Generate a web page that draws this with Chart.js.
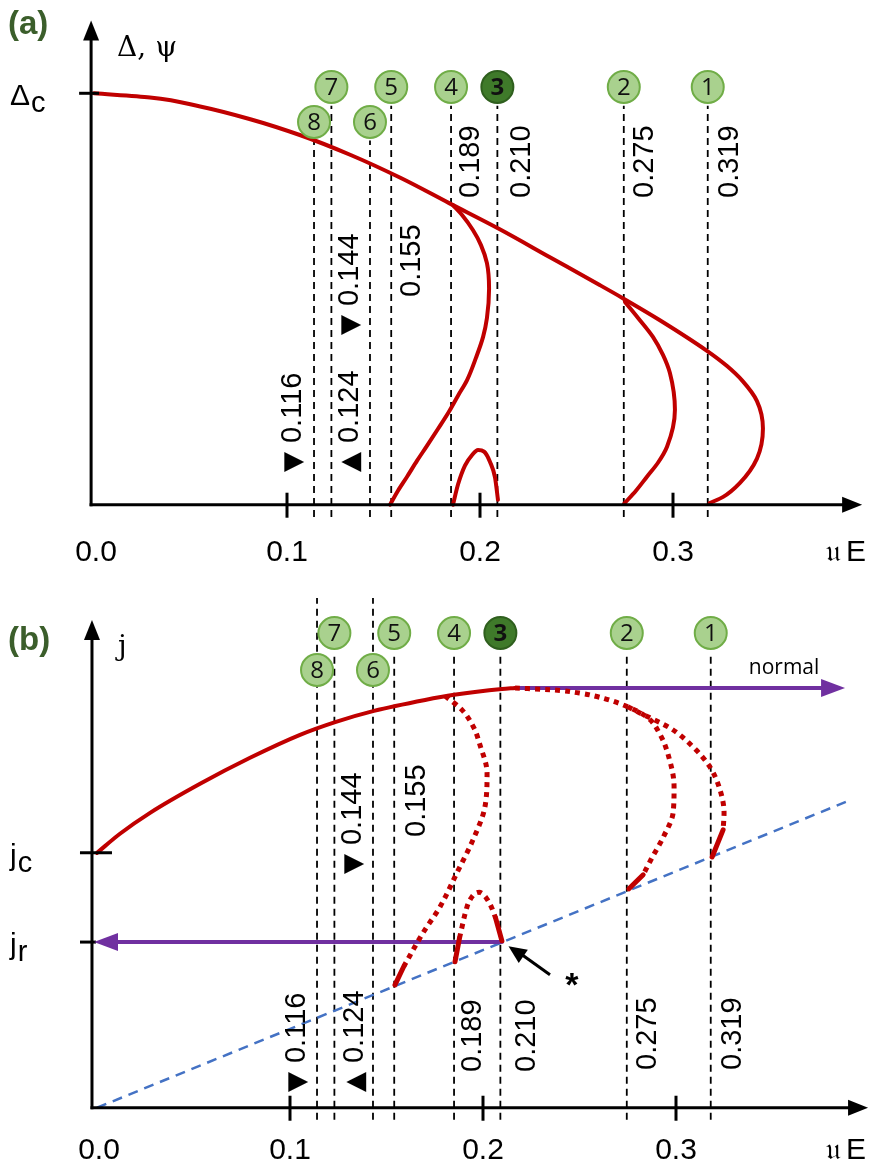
<!DOCTYPE html>
<html>
<head>
<meta charset="utf-8">
<script src="https://cdn.jsdelivr.net/npm/chart.js@4.4.0/dist/chart.umd.min.js"></script>
<style>
body { margin: 0; background: #fff; }
canvas { display: block; }
</style>
</head>
<body>
<canvas id="chartA" width="890" height="587"></canvas>
<canvas id="chartB" width="890" height="587"></canvas>
<script>
// critical uE values: where the dashed lines sit, their printed values, circle numbers
const critX = [0.318, 0.2745, 0.209, 0.185, 0.154, 0.143, 0.123, 0.114];
const critNums = ['1', '2', '3', '4', '5', '6', '7', '8'];
const critText = ['0.319', '0.275', '0.210', '0.189', '0.155', '0.144', '0.124', '0.116'];
const critMark = ['', '', '', '', '', '\u25BC', '\u25B2', '\u25BC'];
const xTicks = [0.1, 0.2, 0.3];
const xTickLabels = ['0.1', '0.2', '0.3'];

// panel (a): gap Delta vs uE
const gapMainX = [0, 0.029, 0.055, 0.081, 0.107, 0.133, 0.159, 0.184, 0.210, 0.236, 0.262, 0.274, 0.293, 0.3176, 0.328, 0.336, 0.3435, 0.3466, 0.3435, 0.3347, 0.326, 0.319];
const gapMainY = [1.0, 0.990, 0.968, 0.937, 0.898, 0.850, 0.794, 0.733, 0.670, 0.602, 0.534, 0.502, 0.449, 0.374, 0.337, 0.301, 0.252, 0.185, 0.112, 0.053, 0.019, 0.004];
const gap2X = [0.2751, 0.2819, 0.2896, 0.2948, 0.2984, 0.301, 0.2969, 0.2922, 0.2865, 0.2808, 0.2746];
const gap2Y = [0.493, 0.454, 0.408, 0.364, 0.320, 0.231, 0.141, 0.102, 0.068, 0.034, 0.002];
const gap4X = [0.186, 0.1907, 0.1964, 0.2005, 0.2036, 0.2047, 0.2036, 0.2016, 0.1979, 0.1933, 0.1886, 0.1839, 0.1782, 0.1725, 0.1674, 0.1622, 0.1575, 0.1534];
const gap4Y = [0.728, 0.704, 0.667, 0.631, 0.587, 0.525, 0.454, 0.408, 0.357, 0.303, 0.265, 0.226, 0.184, 0.143, 0.107, 0.068, 0.034, 0.0];
const gapArcX = [0.186, 0.1886, 0.1922, 0.1959, 0.199, 0.2021, 0.2052, 0.2078, 0.2093];
const gapArcY = [0.0, 0.049, 0.095, 0.121, 0.133, 0.129, 0.104, 0.066, 0.012];

// panel (b): current j vs uE
const jMainX = [0, 0.0119, 0.0275, 0.0534, 0.0793, 0.1052, 0.1238, 0.1435, 0.170, 0.185, 0.2098, 0.2166];
const jMainY = [1.0, 1.075, 1.157, 1.271, 1.373, 1.463, 1.514, 1.557, 1.600, 1.620, 1.643, 1.647];
const j4DotX = [0.1803, 0.1891, 0.1953, 0.1984, 0.2021, 0.2010, 0.1948, 0.1865, 0.1777, 0.1689, 0.159];
const j4DotY = [1.616, 1.561, 1.490, 1.424, 1.314, 1.180, 1.051, 0.922, 0.788, 0.686, 0.555];
const j4SolX = [0.159, 0.1544];
const j4SolY = [0.555, 0.482];
const jArcSolLX = [0.1855, 0.1878];
const jArcSolLY = [0.573, 0.665];
const jArcDotX = [0.1878, 0.1917, 0.1945, 0.198, 0.2015, 0.2045, 0.2065];
const jArcDotY = [0.665, 0.788, 0.83, 0.845, 0.825, 0.785, 0.745];
const jArcSolRX = [0.2065, 0.2098];
const jArcSolRY = [0.745, 0.655];
const j2DotX = [0.2166, 0.235, 0.25, 0.263, 0.275, 0.2849, 0.2917, 0.2965, 0.299, 0.2985, 0.2935, 0.287, 0.283];
const j2DotY = [1.647, 1.640, 1.627, 1.605, 1.573, 1.533, 1.465, 1.37, 1.26, 1.157, 1.063, 0.973, 0.914];
const j2SolX = [0.283, 0.2756];
const j2SolY = [0.914, 0.859];
const j1DotX = [0.275, 0.2813, 0.2969, 0.3088, 0.3176, 0.3228, 0.3249, 0.3244];
const j1DotY = [1.573, 1.549, 1.49, 1.416, 1.337, 1.247, 1.157, 1.09];
const j1SolX = [0.3244, 0.3187];
const j1SolY = [1.09, 0.984];
const resistX = [0, 0.388];
const resistY = [0, 1.2];
const jNormal = 1.647;
const jC = 1.0;
const jR = 0.65;

const RED = '#c00000', PURPLE = '#7030a0', BLUE = '#4472c4';
const FONT = '"Liberation Sans", Arial, sans-serif';

function pts(xs, ys) { return xs.map((x, i) => ({ x: x, y: ys[i] })); }

// axis: which axis the curve is monotone along ('x' or 'y')
function curve(xs, ys, color, width, dash, axis, order) {
  let d = {
    data: pts(xs, ys), borderColor: color, borderWidth: width,
    borderDash: dash || [], borderCapStyle: dash ? 'butt' : 'round',
    borderJoinStyle: 'round',
    pointRadius: 0, fill: false, clip: false,
    order: order || 1
  };
  if (axis) {
    d.indexAxis = axis;
    d.cubicInterpolationMode = 'monotone';
  } else {
    d.tension = 0;
  }
  return d;
}

function critLines(bottom, topRow0, topRow1) {
  return critX.map((x, i) => {
    let top = (i === 5 || i === 7) ? topRow1 : topRow0;
    return curve([x, x], [bottom, top], '#000', 1.8, [7, 5], null, 10);
  });
}

function head(ctx, x, y, dir, len, half, color) {
  ctx.save();
  ctx.fillStyle = color;
  ctx.beginPath();
  if (dir === 'right') { ctx.moveTo(x, y); ctx.lineTo(x - len, y - half); ctx.lineTo(x - len, y + half); }
  if (dir === 'left') { ctx.moveTo(x, y); ctx.lineTo(x + len, y - half); ctx.lineTo(x + len, y + half); }
  if (dir === 'up') { ctx.moveTo(x, y); ctx.lineTo(x - half, y + len); ctx.lineTo(x + half, y + len); }
  ctx.closePath();
  ctx.fill();
  ctx.restore();
}

function line(ctx, x1, y1, x2, y2, w, color) {
  ctx.save();
  ctx.strokeStyle = color; ctx.lineWidth = w;
  ctx.beginPath(); ctx.moveTo(x1, y1); ctx.lineTo(x2, y2); ctx.stroke();
  ctx.restore();
}

function text(ctx, s, x, y, font, color, align) {
  ctx.save();
  ctx.font = font; ctx.fillStyle = color || '#000';
  ctx.textAlign = align || 'left'; ctx.textBaseline = 'alphabetic';
  ctx.fillText(s, x, y);
  ctx.restore();
}

function sub(ctx, main, s, x, y) {
  ctx.save();
  ctx.font = '30px ' + FONT; ctx.fillStyle = '#000';
  ctx.fillText(main, x, y);
  let w = ctx.measureText(main).width;
  ctx.font = '29px ' + FONT;
  ctx.fillText(s, x + w + 1, y + 7);
  ctx.restore();
}

// common decoration for both panels
function decor(cfg) {
  return {
    id: 'decor' + cfg.name,
    afterDatasetsDraw(chart) {
      const ctx = chart.ctx, sx = chart.scales.x, sy = chart.scales.y;
      const X = v => sx.getPixelForValue(v), Y = v => sy.getPixelForValue(v);
      const ax = X(cfg.axisX), y0 = Y(0);
      // axes
      line(ctx, ax - 1.5, y0, X(cfg.xTip) - 14, y0, 3, '#000');
      head(ctx, X(cfg.xTip), y0, 'right', 20, 8, '#000');
      line(ctx, ax, y0 + 1.5, ax, Y(cfg.yTip) + 14, 3, '#000');
      head(ctx, ax, Y(cfg.yTip), 'up', 20, 8, '#000');
      xTicks.forEach((t, i) => {
        line(ctx, X(t), y0 - 12, X(t), y0 + 13, 3, '#000');
        text(ctx, xTickLabels[i], X(t), cfg.tickY, '30px ' + FONT, '#000', 'center');
      });
      text(ctx, '0.0', X(0) + 2, cfg.tickY, '30px ' + FONT, '#000', 'center');
      text(ctx, '\uD835\uDD32', 826, cfg.tickY, '30px "DejaVu Serif", serif', '#000', 'left');
      text(ctx, 'E', 846, cfg.tickY, '30px ' + FONT, '#000', 'left');
      cfg.yMarks.forEach(m => {
        line(ctx, ax - 12, Y(m.v), ax + m.r, Y(m.v), 3, '#000');
        sub(ctx, m.main, m.sub, 10, Y(m.v) + 12);
      });
      // rotated value labels, with an optional triangle marker before the number
      critX.forEach((x, i) => {
        ctx.save();
        ctx.translate(X(x) + cfg.labDx[i], cfg.labBottom[i]);
        ctx.rotate(-Math.PI / 2);
        ctx.fillStyle = '#000';
        ctx.textAlign = 'left'; ctx.textBaseline = 'middle';
        let off = 0;
        if (critMark[i]) {
          ctx.font = '26px "DejaVu Sans", sans-serif';
          ctx.fillText(critMark[i], 0, 1);
          off = ctx.measureText(critMark[i]).width + 9;
        }
        ctx.font = '29px ' + FONT;
        ctx.fillText(critText[i], off, 0);
        ctx.restore();
      });
      // numbered circles
      critX.forEach((x, i) => {
        let cy = (i === 5 || i === 7) ? cfg.row1 : cfg.row0;
        let dark = i === 2;
        ctx.save();
        ctx.beginPath();
        ctx.arc(X(x), cy, 16, 0, Math.PI * 2);
        ctx.fillStyle = dark ? '#3f7a2a' : '#a9d18e';
        ctx.fill();
        ctx.lineWidth = 2;
        ctx.strokeStyle = dark ? '#2f5f1e' : '#70ad47';
        ctx.stroke();
        ctx.font = (dark ? 'bold ' : '') + '24px "Open Sans", sans-serif';
        ctx.fillStyle = '#111';
        ctx.textAlign = 'center'; ctx.textBaseline = 'middle';
        ctx.fillText(critNums[i], X(x), cy + 1);
        ctx.restore();
      });
      text(ctx, cfg.panel, 8, cfg.panelY, 'bold 33px ' + FONT, '#3b5e2b', 'left');
      text(ctx, cfg.yTitle, ax + 26, cfg.yTitleY, '28px "DejaVu Serif", serif', '#000', 'left');
      if (cfg.extra) cfg.extra(ctx, X, Y);
    }
  };
}

function options(padLeft) {
  return {
    responsive: false, animation: false,
    layout: { padding: { left: padLeft, right: 890 - padLeft - 0.405 * 1930, top: 11, bottom: 0 } },
    plugins: { legend: { display: false }, tooltip: { enabled: false } },
    scales: {
      x: { type: 'linear', display: false, min: 0, max: 0.405 },
      y: { type: 'linear', display: false }
    }
  };
}

// ---------- panel (a) ----------
let optA = options(94);
optA.scales.y.min = -0.2; optA.scales.y.max = 1.2;
new Chart(document.getElementById('chartA'), {
  type: 'line',
  data: {
    datasets: [
      curve(gapMainX, gapMainY, RED, 4, null, 'y'),
      curve(gap2X, gap2Y, RED, 4, null, 'y'),
      curve(gap4X, gap4Y, RED, 4, null, 'y'),
      curve(gapArcX, gapArcY, RED, 4, null, 'x')
    ].concat(critLines(-0.03, 0.97, 0.885))
  },
  options: optA,
  plugins: [decor({
    name: 'A', axisX: -0.0015, xTip: 0.398, yTip: 1.177, tickY: 561,
    yMarks: [{ v: 1, main: '\u0394', sub: 'c', r: 8 }],
    labDx: [22, 21, 25, 20, 21, -20, 19, -21],
    labBottom: [198, 198, 198, 198, 297, 335, 472, 472],
    row0: 87, row1: 122, panel: '(a)', panelY: 34,
    yTitle: '\u0394, \u03C8', yTitleY: 56
  })]
});

// ---------- panel (b) ----------
let optB = options(97);
optB.scales.y.min = -0.26; optB.scales.y.max = 2.0;
const dot = [5, 5];
new Chart(document.getElementById('chartB'), {
  type: 'line',
  data: {
    datasets: [
      curve(jMainX, jMainY, RED, 4, null, 'x'),
      curve(j4DotX, j4DotY, RED, 5, dot, 'y'),
      curve(j4SolX, j4SolY, RED, 5),
      curve(jArcSolLX, jArcSolLY, RED, 5),
      curve(jArcDotX, jArcDotY, RED, 5, dot, 'x'),
      curve(jArcSolRX, jArcSolRY, RED, 5),
      curve(j2DotX, j2DotY, RED, 5, dot, 'y'),
      curve(j2SolX, j2SolY, RED, 5),
      curve(j1DotX, j1DotY, RED, 5, dot, 'y'),
      curve(j1SolX, j1SolY, RED, 5),
      curve([0.2166, 0.376], [jNormal, jNormal], PURPLE, 4, null, null, 2),
      curve([0.2098, 0.01], [jR, jR], PURPLE, 4, null, null, 2),
      curve(resistX, resistY, BLUE, 2.5, [10, 7], null, 5)
    ].concat(critLines(-0.047, 1.788, 2.0))
  },
  options: optB,
  plugins: [decor({
    name: 'B', axisX: -0.0026, xTip: 0.3995, yTip: 1.914, tickY: 572,
    yMarks: [{ v: jC, main: 'j', sub: 'c', r: 20 }, { v: jR, main: 'j', sub: 'r', r: 4 }],
    labDx: [22, 21, 27, 19, 23, -20, 21, -20],
    labBottom: [483, 483, 485, 485, 250, 287, 505, 505],
    row0: 46, row1: 83, panel: '(b)', panelY: 63,
    yTitle: 'j', yTitleY: 68,
    extra(ctx, X, Y) {
      head(ctx, X(0.3876), Y(jNormal), 'right', 24, 9, PURPLE);
      head(ctx, X(-0.0026) + 2, Y(jR), 'left', 24, 9, PURPLE);
      text(ctx, 'normal', X(0.356), Y(jNormal) - 14, '21px "Open Sans", sans-serif', '#000', 'center');
      line(ctx, X(0.2347), Y(0.5216), X(0.2175), Y(0.615), 3, '#000');
      ctx.save();
      let tx = X(0.2132), ty = Y(0.634), ang = Math.atan2(Y(0.5216) - ty, X(0.2347) - tx);
      ctx.translate(tx, ty); ctx.rotate(ang);
      ctx.beginPath(); ctx.moveTo(0, 0); ctx.lineTo(18, -8); ctx.lineTo(18, 8); ctx.closePath();
      ctx.fillStyle = '#000'; ctx.fill();
      ctx.restore();
      text(ctx, '*', X(0.246), Y(0.44), 'bold 34px ' + FONT, '#000', 'center');
    }
  })]
});
</script>
</body>
</html>
